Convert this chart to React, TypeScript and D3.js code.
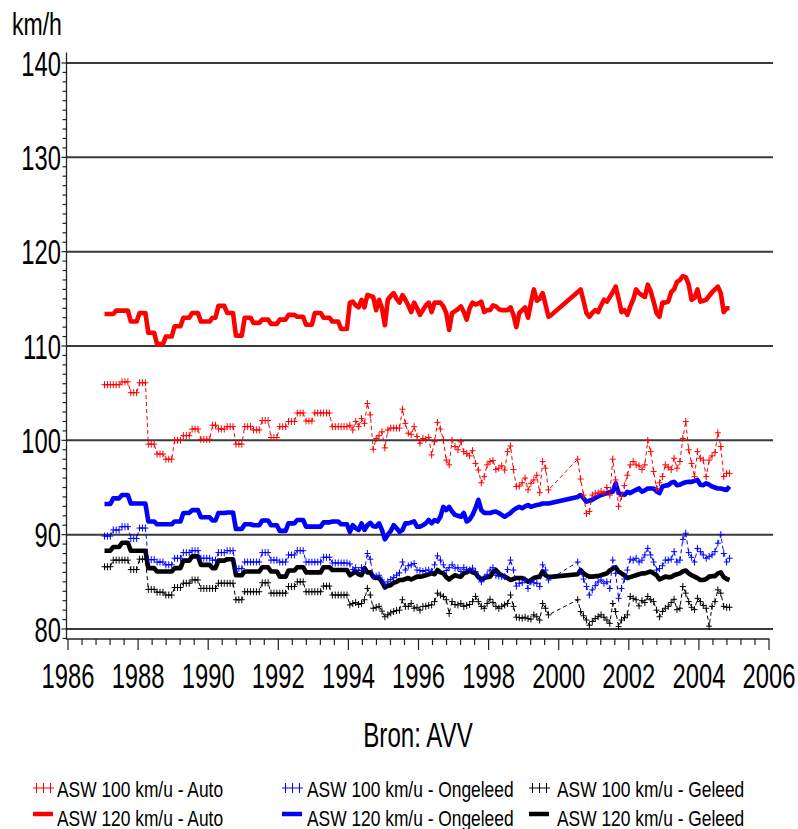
import React from 'react';
import * as d3 from 'd3';

// ---------- data (monthly values, Jan 1987 .. Nov 2004; null = no measurement) ----------
const FIRST_YEAR = 1987;
const N = null;

const yTickValues = [80, 90, 100, 110, 120, 130, 140];
const xTickValues = [1986, 1988, 1990, 1992, 1994, 1996, 1998, 2000, 2002, 2004, 2006];
const yAxisLabel = 'km/h';
const sourceLabel = 'Bron: AVV';

const asw100Auto = [
  105.9,105.9,105.9,105.9,105.9,105.9,106.2,106.2,106.2,105.05,105.05,105.05,
  106.1,106.1,106.1,99.6,99.6,99.6,98.55,98.55,98.55,98.0,98.0,98.0,
  100.0,100.0,100.0,100.5,100.5,100.5,101.2,101.2,101.2,100.1,100.1,100.1,
  100.1,101.6,101.6,101.2,101.2,101.2,101.45,101.45,101.45,99.6,99.6,99.6,
  101.45,101.45,101.45,101.1,101.1,101.1,102.1,102.1,102.1,100.3,100.3,100.3,
  101.45,101.45,101.45,102.0,102.0,102.0,102.9,102.9,102.9,102.05,102.05,102.05,
  102.9,102.9,102.9,102.9,102.9,102.9,101.45,101.45,101.45,101.45,101.45,101.45,
  101.6,101.1,102.0,101.45,102.3,101.8,103.9,102.7,99.05,100.2,100.5,100.9,
  99.2,101.1,101.3,101.3,101.3,101.3,103.3,101.8,100.75,100.6,101.45,100.4,
  99.7,100.2,100.1,100.3,98.45,99.85,101.9,101.2,100.05,97.9,97.4,100.0,
  99.35,99.0,99.85,98.8,98.6,98.35,98.9,97.55,96.85,95.5,96.15,97.4,
  97.75,97.85,96.9,97.05,97.3,96.85,98.8,99.4,96.9,95.1,95.15,95.5,
  96.0,94.75,95.45,95.8,96.3,94.45,97.75,97.05,94.75,N,N,N,
  N,N,N,N,N,N,98.0,95.9,94.2,92.25,92.45,94.2,
  94.4,94.4,94.6,94.4,95.0,94.2,98.0,95.8,93.0,94.05,95.2,96.3,
  97.4,97.75,97.4,97.3,96.9,97.4,100.0,98.8,96.7,94.9,95.5,96.15,
  97.4,97.15,96.9,98.1,97.05,97.75,100.2,102.0,99.0,97.55,96.15,98.8,
  98.1,97.9,96.15,97.9,98.35,98.7,100.8,99.35,96.15,96.5,96.5,
];

const asw120Auto = [
  113.4,113.4,113.4,113.4,113.75,113.75,113.75,113.75,113.75,112.6,112.6,112.6,
  113.5,113.5,113.5,111.4,111.4,111.4,110.2,110.2,110.2,111.0,111.0,111.0,
  112.1,112.1,112.1,113.0,113.0,113.0,113.5,113.5,113.5,112.6,112.6,112.6,
  112.6,113.0,113.0,114.25,114.25,114.25,113.5,113.5,113.5,111.1,111.1,111.1,
  113.0,113.0,113.0,112.45,112.45,112.45,112.8,112.8,112.8,112.35,112.35,112.35,
  112.8,112.8,112.8,113.3,113.3,113.3,113.1,113.1,113.1,112.25,112.25,112.25,
  113.5,113.5,113.5,113.0,113.0,113.0,112.6,112.6,112.6,111.8,111.8,111.8,
  114.6,114.7,114.3,114.1,114.9,114.1,115.4,115.3,115.2,113.8,114.9,114.0,
  112.2,114.9,115.3,115.6,115.0,114.6,115.4,114.9,114.3,113.6,114.6,114.0,
  113.3,113.8,114.3,114.6,113.6,114.6,114.6,114.6,114.2,113.5,111.7,113.5,
  113.7,113.9,114.2,113.6,112.8,114.0,114.6,114.4,114.5,114.7,113.6,113.8,
  113.8,114.3,114.2,113.9,113.8,113.8,113.8,114.1,113.3,112.0,113.5,113.8,
  114.1,113.0,114.6,116.0,114.8,115.0,115.6,114.4,113.1,113.3,N,N,
  N,N,N,N,N,N,N,116.0,114.8,113.5,113.1,113.5,
  113.8,113.6,114.3,114.9,114.7,115.2,115.7,116.3,115.0,113.6,113.8,113.3,
  114.2,114.9,116.0,115.6,115.4,115.2,116.5,115.8,114.7,113.5,113.1,114.6,
  114.6,114.7,115.7,116.0,116.8,117.0,117.4,117.3,116.5,114.9,115.1,116.0,
  114.7,114.8,114.9,115.3,115.7,116.0,116.3,115.6,113.6,114.0,114.0,
];

const asw100Ongeleed = [
  89.85,89.85,89.85,90.5,90.5,90.5,90.85,90.85,90.85,89.6,89.6,89.6,
  90.7,90.7,90.7,87.35,87.35,87.35,87.1,87.1,87.1,86.8,86.8,86.8,
  87.5,87.5,87.5,88.1,88.1,88.1,88.3,88.3,88.3,87.5,87.5,87.5,
  87.5,87.3,87.3,88.1,88.1,88.1,88.3,88.3,88.3,86.4,86.4,86.4,
  87.1,87.1,87.1,87.1,87.1,87.1,88.1,88.1,88.1,87.3,87.3,87.3,
  87.1,87.1,87.1,87.85,87.85,87.85,88.3,88.3,88.3,87.1,87.1,87.1,
  87.1,87.1,87.1,87.6,87.6,87.6,87.0,87.0,87.0,87.0,87.0,87.0,
  86.9,86.3,86.5,86.2,86.5,86.25,88.0,87.4,85.55,85.6,85.7,85.2,
  84.65,85.0,85.25,85.45,85.7,85.95,87.1,86.25,86.7,86.8,86.95,86.25,
  86.2,86.1,86.2,86.25,86.1,86.8,87.75,87.3,86.8,86.2,86.5,86.8,
  86.45,86.5,86.1,86.5,86.3,86.25,86.45,86.1,85.6,85.0,85.4,85.8,
  86.25,86.5,85.7,85.6,85.55,85.55,86.3,87.3,86.25,84.55,84.85,84.9,
  85.2,84.3,85.0,84.9,84.85,84.5,86.8,86.25,85.2,N,N,N,
  N,N,N,N,N,N,87.1,86.1,85.3,84.5,83.6,84.15,
  84.6,85.0,85.2,84.85,85.0,84.3,87.3,85.9,83.25,84.3,85.3,86.25,
  87.4,87.3,87.5,87.1,87.3,87.85,88.55,87.85,87.1,86.25,86.4,86.7,
  87.3,87.3,87.4,88.2,87.1,87.3,89.5,90.15,88.1,87.6,87.1,88.55,
  88.2,87.85,87.5,87.7,87.85,88.2,89.1,90.0,88.0,87.1,87.5,
];

const asw120Ongeleed = [
  93.25,93.25,93.25,93.85,93.85,93.85,94.2,94.2,94.2,93.3,93.3,93.3,
  93.3,93.3,93.3,91.4,91.4,91.4,91.1,91.1,91.1,91.1,91.1,91.1,
  91.4,91.4,91.4,92.3,92.3,92.3,92.6,92.6,92.6,91.85,91.85,91.85,
  91.85,91.5,91.5,92.3,92.3,92.3,92.35,92.35,92.35,90.6,90.6,90.6,
  91.1,91.1,91.1,91.0,91.0,91.0,91.5,91.5,91.5,91.0,91.0,91.0,
  90.4,90.4,90.4,91.2,91.2,91.2,91.55,91.55,91.55,90.85,90.85,90.85,
  90.85,90.85,90.85,91.3,91.3,91.3,91.4,91.4,91.4,91.1,91.1,91.1,
  90.3,91.0,90.7,90.5,91.2,90.5,91.0,91.25,90.9,90.85,91.2,90.5,
  89.5,90.0,90.4,91.0,90.7,90.3,90.5,91.2,91.2,91.3,91.4,90.85,
  90.85,91.0,91.2,91.55,91.2,91.55,91.4,91.9,92.95,92.6,92.95,92.45,
  92.1,92.0,91.9,92.3,91.4,91.6,92.1,92.8,93.7,92.6,92.3,92.3,
  92.3,92.4,92.45,92.3,92.1,91.9,92.1,92.3,92.6,92.8,92.95,92.8,
  93.0,93.15,92.95,93.05,93.15,93.2,93.3,93.3,93.3,N,N,N,
  N,N,N,N,N,N,94.0,94.2,93.85,93.5,93.6,93.7,
  93.9,94.05,94.2,94.3,94.4,94.5,94.55,95.45,94.4,94.3,94.2,94.55,
  94.4,94.6,94.75,94.9,94.55,94.7,94.9,94.9,94.9,94.6,94.4,95.1,
  95.2,95.25,95.5,95.6,95.25,95.3,95.45,95.55,95.6,95.6,95.7,95.8,
  95.3,95.25,95.45,95.3,95.1,95.0,94.9,94.9,94.8,94.75,95.1,
];

const asw100Geleed = [
  86.6,86.6,86.6,87.3,87.3,87.3,87.3,87.3,87.3,86.3,86.3,86.3,
  87.4,87.4,87.4,84.2,84.2,84.2,83.9,83.9,83.9,83.6,83.6,83.6,
  84.4,84.4,84.4,84.85,84.85,84.85,85.2,85.2,85.2,84.3,84.3,84.3,
  84.3,84.3,84.3,84.85,84.85,84.85,84.85,84.85,84.85,83.1,83.1,83.1,
  83.95,83.95,83.95,83.95,83.95,83.95,84.9,84.9,84.9,83.8,83.8,83.8,
  83.8,83.8,83.8,84.5,84.5,84.5,85.0,85.0,85.0,83.95,83.95,83.95,
  83.95,83.95,83.95,84.55,84.55,84.55,83.6,83.6,83.6,83.6,83.6,83.6,
  82.55,82.7,82.8,82.6,82.7,83.1,84.3,83.6,82.2,82.3,82.4,81.9,
  81.3,81.5,81.7,81.85,81.95,82.0,83.1,82.4,82.4,82.7,82.2,82.3,
  82.0,82.4,82.4,82.5,82.55,82.9,83.8,83.6,83.45,83.1,81.65,82.9,
  82.6,82.55,82.7,82.4,82.5,82.6,82.9,83.45,82.9,82.4,82.2,82.7,
  83.15,82.8,82.4,82.2,82.4,82.55,82.7,83.6,82.4,81.25,81.2,81.15,
  81.25,81.1,81.05,81.5,81.3,80.95,82.7,82.2,81.5,N,N,N,
  N,N,N,N,N,N,83.1,81.85,81.4,80.95,80.4,80.8,
  81.1,81.3,81.5,81.25,80.95,80.6,82.7,81.85,80.25,80.95,81.2,81.5,
  83.45,83.25,83.1,82.45,83.0,82.8,83.45,83.1,82.9,82.0,81.3,81.85,
  82.2,82.4,82.8,83.15,82.05,82.2,84.5,83.8,82.9,82.3,82.05,83.25,
  82.9,82.5,82.2,80.3,82.4,82.9,84.15,83.8,82.4,82.3,82.3,
];

const asw120Geleed = [
  88.3,88.3,88.3,88.7,88.7,88.7,89.15,89.15,89.15,88.3,88.3,88.3,
  88.3,88.3,88.3,86.45,86.45,86.45,86.1,86.1,86.1,86.1,86.1,86.1,
  86.45,86.45,86.45,87.25,87.25,87.25,87.7,87.7,87.7,86.8,86.8,86.8,
  86.8,86.45,86.45,87.25,87.25,87.25,87.4,87.4,87.4,85.7,85.7,85.7,
  86.1,86.1,86.1,86.1,86.1,86.1,86.55,86.55,86.55,86.1,86.1,86.1,
  85.55,85.55,85.55,86.2,86.2,86.2,86.55,86.55,86.55,86.0,86.0,86.0,
  86.0,86.0,86.0,86.55,86.55,86.55,86.25,86.25,86.25,86.25,86.25,86.25,
  85.7,85.9,86.1,85.8,85.7,86.45,86.0,86.0,85.55,85.4,85.4,85.0,
  84.4,84.6,84.65,84.9,85.0,85.2,85.2,85.3,85.4,85.25,85.4,85.55,
  85.55,85.6,85.7,85.8,85.9,85.8,86.25,86.0,85.9,85.5,85.25,85.5,
  85.7,85.6,85.55,85.9,86.0,86.25,86.0,85.9,85.5,85.25,85.4,85.5,
  85.55,86.0,86.25,85.9,85.7,85.55,85.4,85.2,85.3,85.4,85.4,85.4,
  85.25,85.0,85.2,85.4,85.5,85.55,86.1,85.7,85.5,N,N,N,
  N,N,N,N,N,N,85.8,86.25,85.9,85.7,85.55,85.55,
  85.6,85.6,85.7,85.8,85.9,86.2,86.4,86.55,86.1,85.9,85.7,85.4,
  85.5,85.6,85.7,85.8,85.9,85.9,86.0,86.1,85.9,85.7,85.25,85.4,
  85.55,85.5,85.5,85.7,85.8,85.9,86.1,86.2,85.9,85.7,85.55,85.4,
  85.2,85.2,85.3,85.55,85.6,85.6,85.9,86.0,85.5,85.3,85.2,
];

type Kind = 'plus' | 'thick';
interface Series { label: string; color: string; kind: Kind; values: (number | null)[]; col: number; row: number; }

const RED = '#ff0000';
const BLUE = '#0000ff';
const BLACK = '#000000';

const seriesList: Series[] = [
  { label: 'ASW 100 km/u - Auto', color: RED, kind: 'plus', values: asw100Auto, col: 0, row: 0 },
  { label: 'ASW 120 km/u - Auto', color: RED, kind: 'thick', values: asw120Auto, col: 0, row: 1 },
  { label: 'ASW 100 km/u - Ongeleed', color: BLUE, kind: 'plus', values: asw100Ongeleed, col: 1, row: 0 },
  { label: 'ASW 120 km/u - Ongeleed', color: BLUE, kind: 'thick', values: asw120Ongeleed, col: 1, row: 1 },
  { label: 'ASW 100 km/u - Geleed', color: BLACK, kind: 'plus', values: asw100Geleed, col: 2, row: 0 },
  { label: 'ASW 120 km/u - Geleed', color: BLACK, kind: 'thick', values: asw120Geleed, col: 2, row: 1 },
];

// ---------- layout ----------
const W = 798;
const H = 829;
const FONT = '"Liberation Sans", Arial, sans-serif';

const x = d3.scaleLinear().domain([1986, 2006]).range([68, 769]);
const y = d3.scaleLinear().domain([80, 140]).range([629, 63]);

const AXIS_Y = 639;
const AXIS_X = 66.5;

function monthTime(i: number) {
  return FIRST_YEAR + (i + 0.5) / 12;
}

function points(values: (number | null)[]): [number, number][] {
  const out: [number, number][] = [];
  values.forEach((v, i) => {
    if (v !== null && v !== undefined) out.push([monthTime(i), v]);
  });
  return out;
}

const lineGen = d3.line<[number, number]>().x(d => x(d[0])).y(d => y(d[1]));

function plusPath(pts: [number, number][], hw: number, hh: number) {
  return pts
    .map(([t, v]) => {
      const px = x(t);
      const py = y(v);
      return `M${(px - hw).toFixed(2)},${py.toFixed(2)}h${2 * hw}M${px.toFixed(2)},${(py - hh).toFixed(2)}v${2 * hh}`;
    })
    .join('');
}

const Label: React.FC<{ tx: number; ty: number; size: number; sx: number; anchor?: string; children: React.ReactNode }> = ({ tx, ty, size, sx, anchor = 'start', children }) => (
  <text
    transform={`translate(${tx},${ty}) scale(${sx},1)`}
    fontFamily={FONT}
    fontSize={size}
    textAnchor={anchor as any}
    fill="#000"
  >
    {children}
  </text>
);

export default function App() {
  const minorX = d3.range(0, 51).map(k => 1986 + k * 0.4);
  const minorY = d3.range(79, 141);

  const thick = seriesList.filter(s => s.kind === 'thick');
  const thin = seriesList.filter(s => s.kind === 'plus');

  const legendColX = [33, 282, 529];
  const legendTextX = [57, 307, 557];
  const legendRowY = [788, 814];
  const legendTextY = [796.5, 826];

  return (
    <svg width={W} height={H} style={{ position: 'absolute', left: 0, top: 0, background: '#fff' }}>
      <rect x={0} y={0} width={W} height={H} fill="#fff" />

      {/* grid lines */}
      {yTickValues.map(v => (
        <line key={`g${v}`} x1={AXIS_X} x2={773} y1={y(v)} y2={y(v)} stroke="#3a3a3a" strokeWidth={2} />
      ))}

      {/* y axis */}
      <line x1={AXIS_X} x2={AXIS_X} y1={y(141.1)} y2={AXIS_Y} stroke="#222" strokeWidth={1.3} />
      {minorY.map(v => (
        <line key={`yt${v}`} x1={AXIS_X - (v % 10 === 0 ? 5 : 4)} x2={AXIS_X} y1={y(v)} y2={y(v)} stroke="#222" strokeWidth={1.2} />
      ))}
      {yTickValues.map(v => (
        <Label key={`yl${v}`} tx={61} ty={y(v) + 12.5} size={35} sx={0.68} anchor="end">{v}</Label>
      ))}
      <Label tx={12} ty={35} size={32} sx={0.72}>{yAxisLabel}</Label>

      {/* x axis */}
      <line x1={AXIS_X - 0.5} x2={x(2006) + 0.5} y1={AXIS_Y} y2={AXIS_Y} stroke="#222" strokeWidth={1.5} />
      {minorX.map((t, k) => (
        <line key={`xt${k}`} x1={x(t)} x2={x(t)} y1={AXIS_Y} y2={AXIS_Y + (k % 5 === 0 ? 11 : 6)} stroke="#222" strokeWidth={1.2} />
      ))}
      {xTickValues.map(t => (
        <Label key={`xl${t}`} tx={x(t)} ty={688} size={35} sx={0.68} anchor="middle">{t}</Label>
      ))}
      <Label tx={418} ty={747} size={36} sx={0.67} anchor="middle">{sourceLabel}</Label>

      {/* thick 120 km/u series */}
      {thick.map(s => (
        <path key={s.label} d={lineGen(points(s.values)) || ''} fill="none" stroke={s.color} strokeWidth={4.6} strokeLinejoin="round" strokeLinecap="butt" />
      ))}

      {/* thin dashed 100 km/u series with plus markers */}
      {thin.map(s => {
        const pts = points(s.values);
        return (
          <g key={s.label}>
            <path d={lineGen(pts) || ''} fill="none" stroke={s.color} strokeWidth={1} strokeDasharray="4 3" />
            <path d={plusPath(pts, 3, 3.5)} fill="none" stroke={s.color} strokeWidth={1} />
          </g>
        );
      })}

      {/* legend */}
      {seriesList.map(s => {
        const lx = legendColX[s.col];
        const ly = legendRowY[s.row];
        return (
          <g key={`lg${s.label}`}>
            {s.kind === 'plus' ? (
              <g stroke={s.color} strokeWidth={1} fill="none">
                <line x1={lx} x2={lx + 21} y1={ly} y2={ly} />
                {[0, 1, 2].map(k => (
                  <line key={k} x1={lx + 3.5 + k * 7} x2={lx + 3.5 + k * 7} y1={ly - 5} y2={ly + 5} />
                ))}
              </g>
            ) : (
              <line x1={lx} x2={lx + 20} y1={ly} y2={ly} stroke={s.color} strokeWidth={4.5} />
            )}
            <Label tx={legendTextX[s.col]} ty={legendTextY[s.row]} size={22} sx={0.79}>{s.label}</Label>
          </g>
        );
      })}
    </svg>
  );
}
